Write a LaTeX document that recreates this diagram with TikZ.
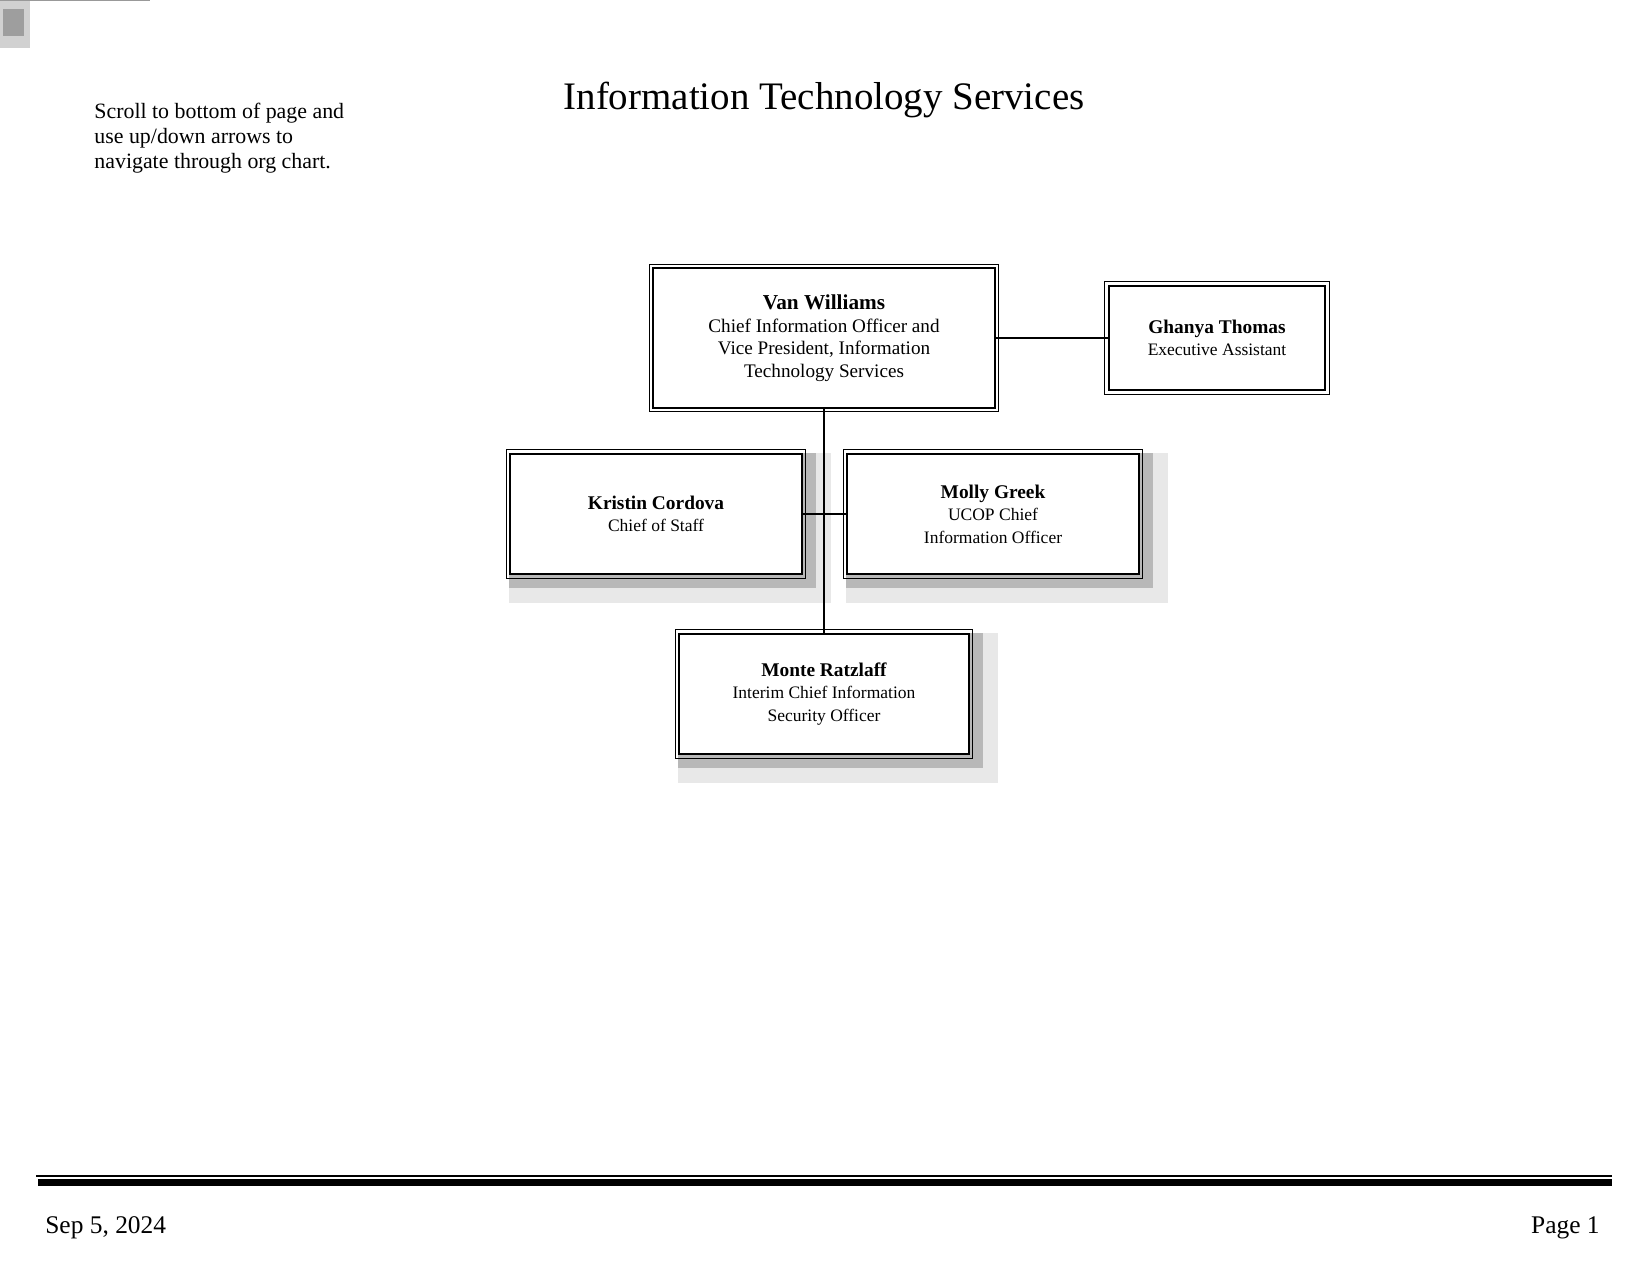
\documentclass[tikz,border=0pt]{standalone}
\usepackage{fontspec}
\setmainfont{Liberation Serif}
\usetikzlibrary{positioning,calc,backgrounds}
\tikzset{person/.style={draw,line width=1pt,fill=white,align=center,inner sep=2pt,font=\fontsize{8.4}{10.8}\selectfont}}
\newcommand{\pname}[2][9.3]{{\fontsize{#1}{10.8}\selectfont\bfseries #2}}

\begin{document}
\begin{tikzpicture}[x=0.48pt,y=-0.48pt]
\tikzstyle{outline}=[line width=0.5pt]
\tikzstyle{shadowlight}=[fill=black!9]
\tikzstyle{shadowdark}=[fill=black!28]
\useasboundingbox (0,0) rectangle (1650,1275);

% corner mark
\fill[black!18] (0,0) rectangle (30,48);
\fill[black!38] (3,9) rectangle (24,36);
\draw[black!40,line width=0.5pt] (0,0.5) -- (150,0.5);

% header
\node[anchor=north west,align=left,inner sep=0pt,font=\fontsize{10.5}{12}\selectfont] (hint) at (94,103)
  {Scroll to bottom of page and\\use up/down arrows to\\navigate through org chart.};
\node[font=\fontsize{18.7}{20}\selectfont] (title) at (824,100) {Information Technology Services};

% boxes
\path (824,338) node[person,minimum width=164pt,minimum height=67pt,font=\fontsize{9.2}{10.8}\selectfont] (van)
    {\pname[10.2]{Van Williams}\\Chief Information Officer and\\Vice President, Information\\Technology Services}
  (1217,338) node[person,minimum width=104pt,minimum height=50pt] (ghanya)
    {\pname{Ghanya Thomas}\\Executive Assistant}
  (656,514) node[person,minimum width=140pt,minimum height=58pt] (kristin)
    {\pname{Kristin Cordova}\\Chief of Staff}
  (993,514) node[person,minimum width=140pt,minimum height=58pt] (molly)
    {\pname{Molly Greek}\\UCOP Chief\\Information Officer}
  (824,694) node[person,minimum width=139pt,minimum height=58pt] (monte)
    {\pname{Monte Ratzlaff}\\Interim Chief Information\\Security Officer};

\foreach \n in {van,ghanya,kristin,molly,monte}
  \draw[outline] ($(\n.north west)+(-3,-3)$) rectangle ($(\n.south east)+(3,3)$);

\begin{scope}[on background layer]
\foreach \n in {kristin,molly,monte} {
  \fill[shadowlight] (\n.north west) rectangle ($(\n.south east)+(28,28)$);
  \fill[shadowdark] (\n.north west) rectangle ($(\n.south east)+(13,13)$);
}
\end{scope}

% connectors
\draw[line width=0.6pt] (van.east) -- (ghanya.west);
\draw[line width=0.6pt] (van.south) -- (monte.north);
\draw[line width=1pt] (kristin.east) -- (molly.west);

% footer
\draw[line width=1pt] (36,1176) -- (1612,1176);
\fill (38,1179) rectangle (1612,1186);
\node[anchor=west,font=\fontsize{12.2}{14}\selectfont] (date) at (38,1228) {Sep 5, 2024};
\node[anchor=east,font=\fontsize{12.2}{14}\selectfont] (page) at (1607,1228) {Page 1};
\end{tikzpicture}
\end{document}
